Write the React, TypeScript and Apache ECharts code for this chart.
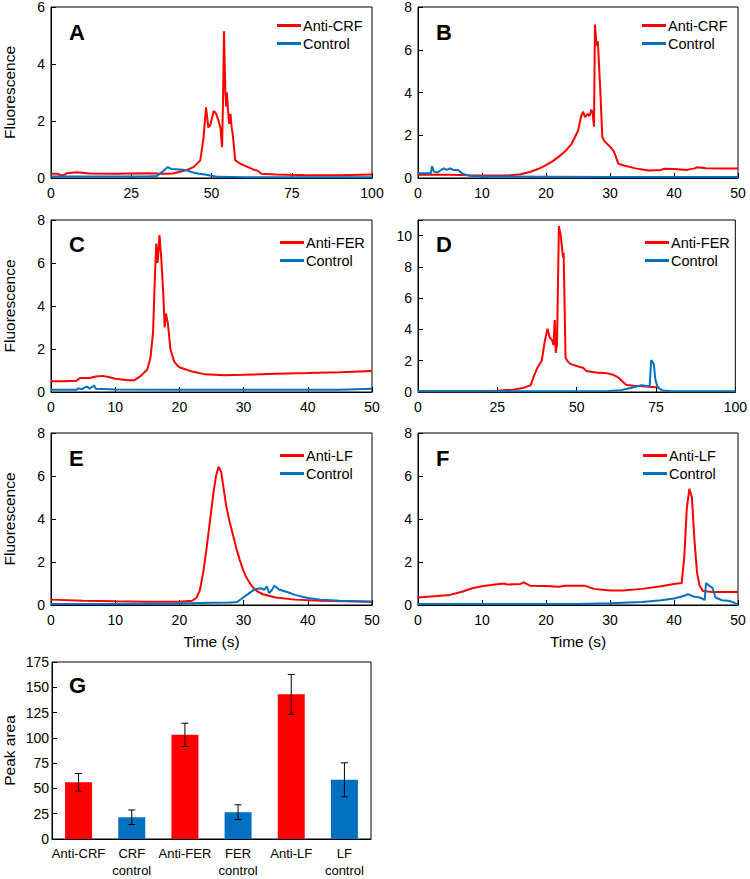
import React, { useEffect, useRef } from "react";
import * as echarts from "echarts";

// ---------- DATA ----------
const aAntiCRF: number[][] = [[0,0.15],[2,0.15],[3,0.1],[4,0.1],[5,0.17],[8,0.2],[12,0.16],[20,0.15],[30,0.17],[35,0.15],[38,0.16],[42,0.27],[44.4,0.38],[46.5,0.62],[47.5,1.4],[48.3,2.48],[49,1.78],[49.6,1.85],[50.7,2.35],[51.5,2.25],[52.2,2.0],[52.8,1.75],[53.3,1.08],[53.6,2.8],[53.9,5.15],[54.3,3.05],[54.6,2.5],[54.8,3.0],[55.2,2.3],[55.5,1.9],[55.9,2.25],[56.3,1.75],[56.6,1.55],[57.4,0.62],[59,0.5],[61,0.4],[63,0.3],[64.5,0.25],[65.5,0.15],[70,0.12],[80,0.1],[90,0.1],[100,0.12]];
const aControl: number[][] = [[0,0.05],[10,0.05],[20,0.05],[30,0.05],[33,0.07],[34.5,0.2],[36.3,0.38],[37.5,0.32],[40,0.3],[42,0.28],[44,0.2],[46,0.15],[48,0.12],[50,0.08],[52,0.04],[60,0.03],[80,0.03],[100,0.03]];

const bAntiCRF: number[][] = [[0,0.15],[5,0.15],[8,0.13],[10,0.12],[14,0.12],[16,0.18],[17.5,0.28],[19,0.45],[20,0.6],[21,0.78],[22,1.0],[23,1.25],[24,1.6],[25,2.2],[25.5,2.9],[25.8,3.1],[26.1,2.85],[26.5,3.0],[26.8,2.9],[27.1,3.2],[27.3,3.0],[27.5,2.4],[27.65,7.18],[27.9,6.2],[28.1,6.4],[28.5,4.0],[28.8,1.9],[29.2,1.7],[30.2,1.4],[30.6,1.25],[31.3,0.67],[32,0.6],[34,0.45],[36,0.35],[38,0.38],[38.5,0.43],[40,0.42],[42,0.38],[43.2,0.45],[43.6,0.5],[45,0.46],[48,0.45],[50,0.45]];
const bControl: number[][] = [[0,0.22],[2,0.22],[2.2,0.55],[2.5,0.3],[3,0.25],[3.5,0.35],[4,0.45],[4.5,0.38],[5,0.45],[5.5,0.38],[6.2,0.38],[7,0.2],[8,0.1],[10,0.07],[20,0.06],[30,0.05],[40,0.05],[50,0.05]];

const cAntiFER: number[][] = [[0,0.5],[2,0.5],[4,0.52],[4.5,0.65],[6,0.65],[7,0.72],[8,0.75],[9,0.7],[10,0.62],[12,0.55],[13,0.55],[14,0.75],[15,1.05],[15.5,1.6],[15.9,2.8],[16.2,5.5],[16.4,6.9],[16.6,6.0],[16.9,7.3],[17.2,6.1],[17.5,4.5],[17.7,3.0],[17.9,3.65],[18.2,3.2],[18.6,2.0],[19.2,1.4],[20,1.15],[22,0.95],[24,0.82],[27,0.78],[30,0.8],[35,0.85],[40,0.88],[45,0.92],[50,0.98]];
const cControl: number[][] = [[0,0.1],[4,0.1],[4.3,0.18],[4.8,0.12],[5.2,0.2],[5.6,0.25],[6,0.15],[6.7,0.3],[7,0.15],[10,0.12],[20,0.1],[30,0.1],[40,0.1],[45,0.1],[50,0.15]];

const dAntiFER: number[][] = [[0,0.05],[10,0.05],[20,0.05],[25,0.08],[30,0.15],[33,0.25],[35.5,0.44],[36.5,1.0],[37.5,1.5],[39,2.0],[40,3.3],[40.8,4.05],[41.5,3.5],[42.3,3.3],[42.7,3.0],[43.1,4.6],[43.4,2.5],[43.8,3.0],[44.4,10.6],[45,10.0],[45.7,8.6],[45.9,8.9],[46.5,2.2],[47,2.0],[48,1.8],[51,1.6],[52,1.55],[53,1.35],[56,1.25],[59.5,1.2],[61.5,1.1],[63,0.95],[64,0.75],[65.7,0.45],[68,0.4],[72,0.35],[75,0.3],[76,0.3]];
const dControl: number[][] = [[0,0.05],[20,0.05],[40,0.05],[60,0.06],[64,0.12],[67,0.25],[70.4,0.43],[72,0.38],[73,0.35],[73.5,2.05],[74.3,1.8],[74.8,0.8],[75.5,0.3],[77,0.1],[80,0.05],[90,0.05],[100,0.05]];

const eAntiLF: number[][] = [[0,0.25],[5,0.2],[10,0.17],[15,0.15],[20,0.15],[22,0.2],[22.7,0.35],[23.2,0.7],[23.7,1.5],[24.2,2.55],[24.8,4.0],[25.3,5.2],[25.7,6.0],[26.1,6.43],[26.5,6.2],[26.8,5.6],[27.3,4.6],[27.8,3.9],[28.4,3.2],[28.9,2.6],[29.4,2.1],[29.9,1.65],[30.4,1.3],[31,1.0],[31.5,0.8],[32.2,0.62],[33,0.5],[35,0.35],[38,0.25],[42,0.2],[46,0.17],[50,0.15]];
const eControl: number[][] = [[0,0.05],[10,0.05],[20,0.07],[25,0.1],[28,0.12],[29,0.14],[30.5,0.47],[31.5,0.68],[32,0.74],[32.7,0.78],[33.2,0.7],[33.6,0.87],[34,0.55],[34.4,0.7],[34.8,0.9],[35.5,0.72],[37,0.58],[38,0.47],[40,0.33],[42,0.25],[45,0.2],[50,0.15]];

const fAntiLF: number[][] = [[0,0.35],[3,0.42],[5,0.47],[7,0.63],[8.5,0.78],[10,0.87],[12,0.95],[13.5,1.0],[14,0.95],[16,0.98],[16.5,1.05],[17.5,0.9],[20,0.88],[22,0.85],[23,0.9],[26,0.9],[27.5,0.75],[30,0.68],[32,0.68],[35,0.75],[38,0.87],[40,0.98],[41.2,1.02],[41.6,2.2],[42,4.5],[42.4,5.4],[42.8,5.0],[43.2,3.0],[43.6,1.5],[44,0.9],[44.5,0.65],[46,0.6],[50,0.6]];
const fControl: number[][] = [[0,0.05],[10,0.05],[20,0.05],[25,0.05],[30,0.08],[35,0.14],[38,0.22],[40,0.3],[41.5,0.42],[42.2,0.5],[43,0.4],[44,0.35],[44.8,0.24],[45,1.02],[45.5,0.9],[46,0.8],[46.5,0.35],[47.5,0.22],[48.5,0.2],[49.3,0.12],[50,0.02]];

const barCategories = ["Anti-CRF", "CRF\ncontrol", "Anti-FER", "FER\ncontrol", "Anti-LF", "LF\ncontrol"];
const barValues = [56, 21.5, 103, 26.5, 143, 58.5];
const barErrors = [8.8, 7.2, 11.5, 7.3, 19.7, 16.8];

// axis ranges: [xMax, xInterval, yMax, yInterval]
const panelRanges: number[][] = [
  [100, 25, 6, 2],
  [50, 10, 8, 2],
  [50, 10, 8, 2],
  [100, 25, 11, 2],
  [50, 10, 8, 2],
  [50, 10, 8, 2],
];
const barYMax = 175;
const barYInterval = 25;

const RED = "#FF0000";
const BLUE = "#0070C0";
const FONT = "'Liberation Sans', Arial, sans-serif";

export default function App() {
  const ref = useRef<HTMLDivElement>(null);
  useEffect(() => {
    if (!ref.current) return;
    const chart = echarts.init(ref.current, null, { renderer: "svg" });

    const grids = [
      { left: 51, top: 6, width: 321, height: 172 },
      { left: 418, top: 6, width: 320, height: 172 },
      { left: 51, top: 220, width: 321, height: 172 },
      { left: 418, top: 220, width: 320, height: 172 },
      { left: 51, top: 433, width: 321, height: 172 },
      { left: 418, top: 433, width: 320, height: 172 },
      { left: 51, top: 662, width: 320, height: 183 },
    ].map((g) => ({ ...g, show: true, borderColor: "#000", borderWidth: 1, backgroundColor: "transparent" }));

    const panels = [
      { anti: "Anti-CRF", antiData: aAntiCRF, ctrlData: aControl, ylab: true, xlab: false },
      { anti: "Anti-CRF", antiData: bAntiCRF, ctrlData: bControl, ylab: false, xlab: false },
      { anti: "Anti-FER", antiData: cAntiFER, ctrlData: cControl, ylab: true, xlab: false },
      { anti: "Anti-FER", antiData: dAntiFER, ctrlData: dControl, ylab: false, xlab: false },
      { anti: "Anti-LF", antiData: eAntiLF, ctrlData: eControl, ylab: true, xlab: true },
      { anti: "Anti-LF", antiData: fAntiLF, ctrlData: fControl, ylab: false, xlab: true },
    ];

    const axisCommon = {
      axisLine: { show: true, lineStyle: { color: "#000", width: 1 } },
      axisTick: { show: true, inside: true, length: 5, lineStyle: { color: "#000" } },
      splitLine: { show: false },
      nameTextStyle: { color: "#000", fontSize: 15.5, fontFamily: FONT },
    };

    const xAxes: any[] = panels.map((p, i) => ({
      ...axisCommon,
      type: "value",
      gridIndex: i,
      min: 0,
      max: panelRanges[i][0],
      interval: panelRanges[i][1],
      name: p.xlab ? "Time (s)" : "",
      nameLocation: "middle",
      nameGap: 28,
      axisLabel: { color: "#000", fontSize: 14, fontFamily: FONT, margin: 8, showMinLabel: true, showMaxLabel: true },
    }));
    const yAxes: any[] = panels.map((p, i) => ({
      ...axisCommon,
      type: "value",
      gridIndex: i,
      min: 0,
      max: panelRanges[i][2],
      interval: panelRanges[i][3],
      name: p.ylab ? "Fluorescence" : "",
      nameLocation: "middle",
      nameGap: 34,
      axisLabel: {
        color: "#000",
        fontSize: 14,
        fontFamily: FONT,
        margin: 6,
        showMinLabel: true,
        showMaxLabel: true,
        formatter: (v: number) => (v % panelRanges[i][3] === 0 ? String(v) : ""),
      },
    }));

    xAxes.push({
      type: "category",
      gridIndex: 6,
      data: barCategories,
      axisLine: { show: true, lineStyle: { color: "#000" } },
      axisTick: { show: false },
      axisLabel: { color: "#000", fontSize: 13, fontFamily: FONT, margin: 6, lineHeight: 17, interval: 0 },
    });
    yAxes.push({
      ...axisCommon,
      type: "value",
      gridIndex: 6,
      min: 0,
      max: barYMax,
      interval: barYInterval,
      name: "Peak area",
      nameLocation: "middle",
      nameGap: 35,
      axisLabel: { color: "#000", fontSize: 14, fontFamily: FONT, margin: 3, showMinLabel: true, showMaxLabel: true },
    });

    const series: any[] = [];
    panels.forEach((p, i) => {
      series.push({
        type: "line",
        name: p.anti,
        xAxisIndex: i,
        yAxisIndex: i,
        data: p.antiData,
        showSymbol: false,
        symbol: "none",
        color: RED,
        lineStyle: { color: RED, width: 2 },
        z: 3,
      });
      series.push({
        type: "line",
        name: "Control",
        xAxisIndex: i,
        yAxisIndex: i,
        data: p.ctrlData,
        showSymbol: false,
        symbol: "none",
        color: BLUE,
        lineStyle: { color: BLUE, width: 2 },
        z: 4,
      });
    });

    series.push({
      type: "bar",
      name: "Peak area",
      xAxisIndex: 6,
      yAxisIndex: 6,
      barWidth: 27,
      data: barValues.map((v, i) => ({ value: v, itemStyle: { color: i % 2 === 0 ? RED : BLUE } })),
    });
    series.push({
      type: "custom",
      name: "Error",
      xAxisIndex: 6,
      yAxisIndex: 6,
      z: 10,
      data: barValues.map((v, i) => [i, v - barErrors[i], v + barErrors[i]]),
      encode: { x: 0, y: [1, 2] },
      renderItem: (params: any, api: any) => {
        const x = api.value(0);
        const lo = api.coord([x, api.value(1)]);
        const hi = api.coord([x, api.value(2)]);
        const w = 3.5;
        const st = { stroke: "#000", lineWidth: 1 };
        return {
          type: "group",
          children: [
            { type: "line", shape: { x1: lo[0], y1: lo[1], x2: hi[0], y2: hi[1] }, style: st },
            { type: "line", shape: { x1: lo[0] - w, y1: lo[1], x2: lo[0] + w, y2: lo[1] }, style: st },
            { type: "line", shape: { x1: hi[0] - w, y1: hi[1], x2: hi[0] + w, y2: hi[1] }, style: st },
          ],
        };
      },
    });

    const legendPos = [
      [277, 18],
      [642, 18],
      [280, 235],
      [645, 235],
      [280, 448],
      [643, 448],
    ];
    const legends = panels.map((p, i) => ({
      show: true,
      orient: "vertical",
      left: legendPos[i][0],
      top: legendPos[i][1],
      itemGap: 3,
      itemWidth: 24,
      itemHeight: 3,
      icon: "rect",
      padding: 0,
      selectedMode: false,
      textStyle: { color: "#000", fontSize: 14.5, fontFamily: FONT, padding: [0, 0, 0, -3] },
      data: [p.anti, "Control"],
    }));

    const letters = [
      ["A", 69, 32],
      ["B", 436, 32],
      ["C", 69, 244],
      ["D", 436, 244],
      ["E", 69, 458],
      ["F", 436, 458],
      ["G", 69, 685],
    ];
    const graphic = letters.map((l) => ({
      type: "text",
      left: l[1] as number,
      top: (l[2] as number) - 11,
      style: { text: l[0], fill: "#000", font: `bold 22px ${FONT}` },
    }));

    chart.setOption({
      animation: false,
      backgroundColor: "#fff",
      textStyle: { fontFamily: FONT },
      grid: grids,
      xAxis: xAxes,
      yAxis: yAxes,
      legend: legends,
      series,
      graphic,
    });
    return () => chart.dispose();
  }, []);
  return (
    <div
      ref={ref}
      style={{ position: "absolute", left: 0, top: 0, width: 750, height: 879 }}
    />
  );
}
